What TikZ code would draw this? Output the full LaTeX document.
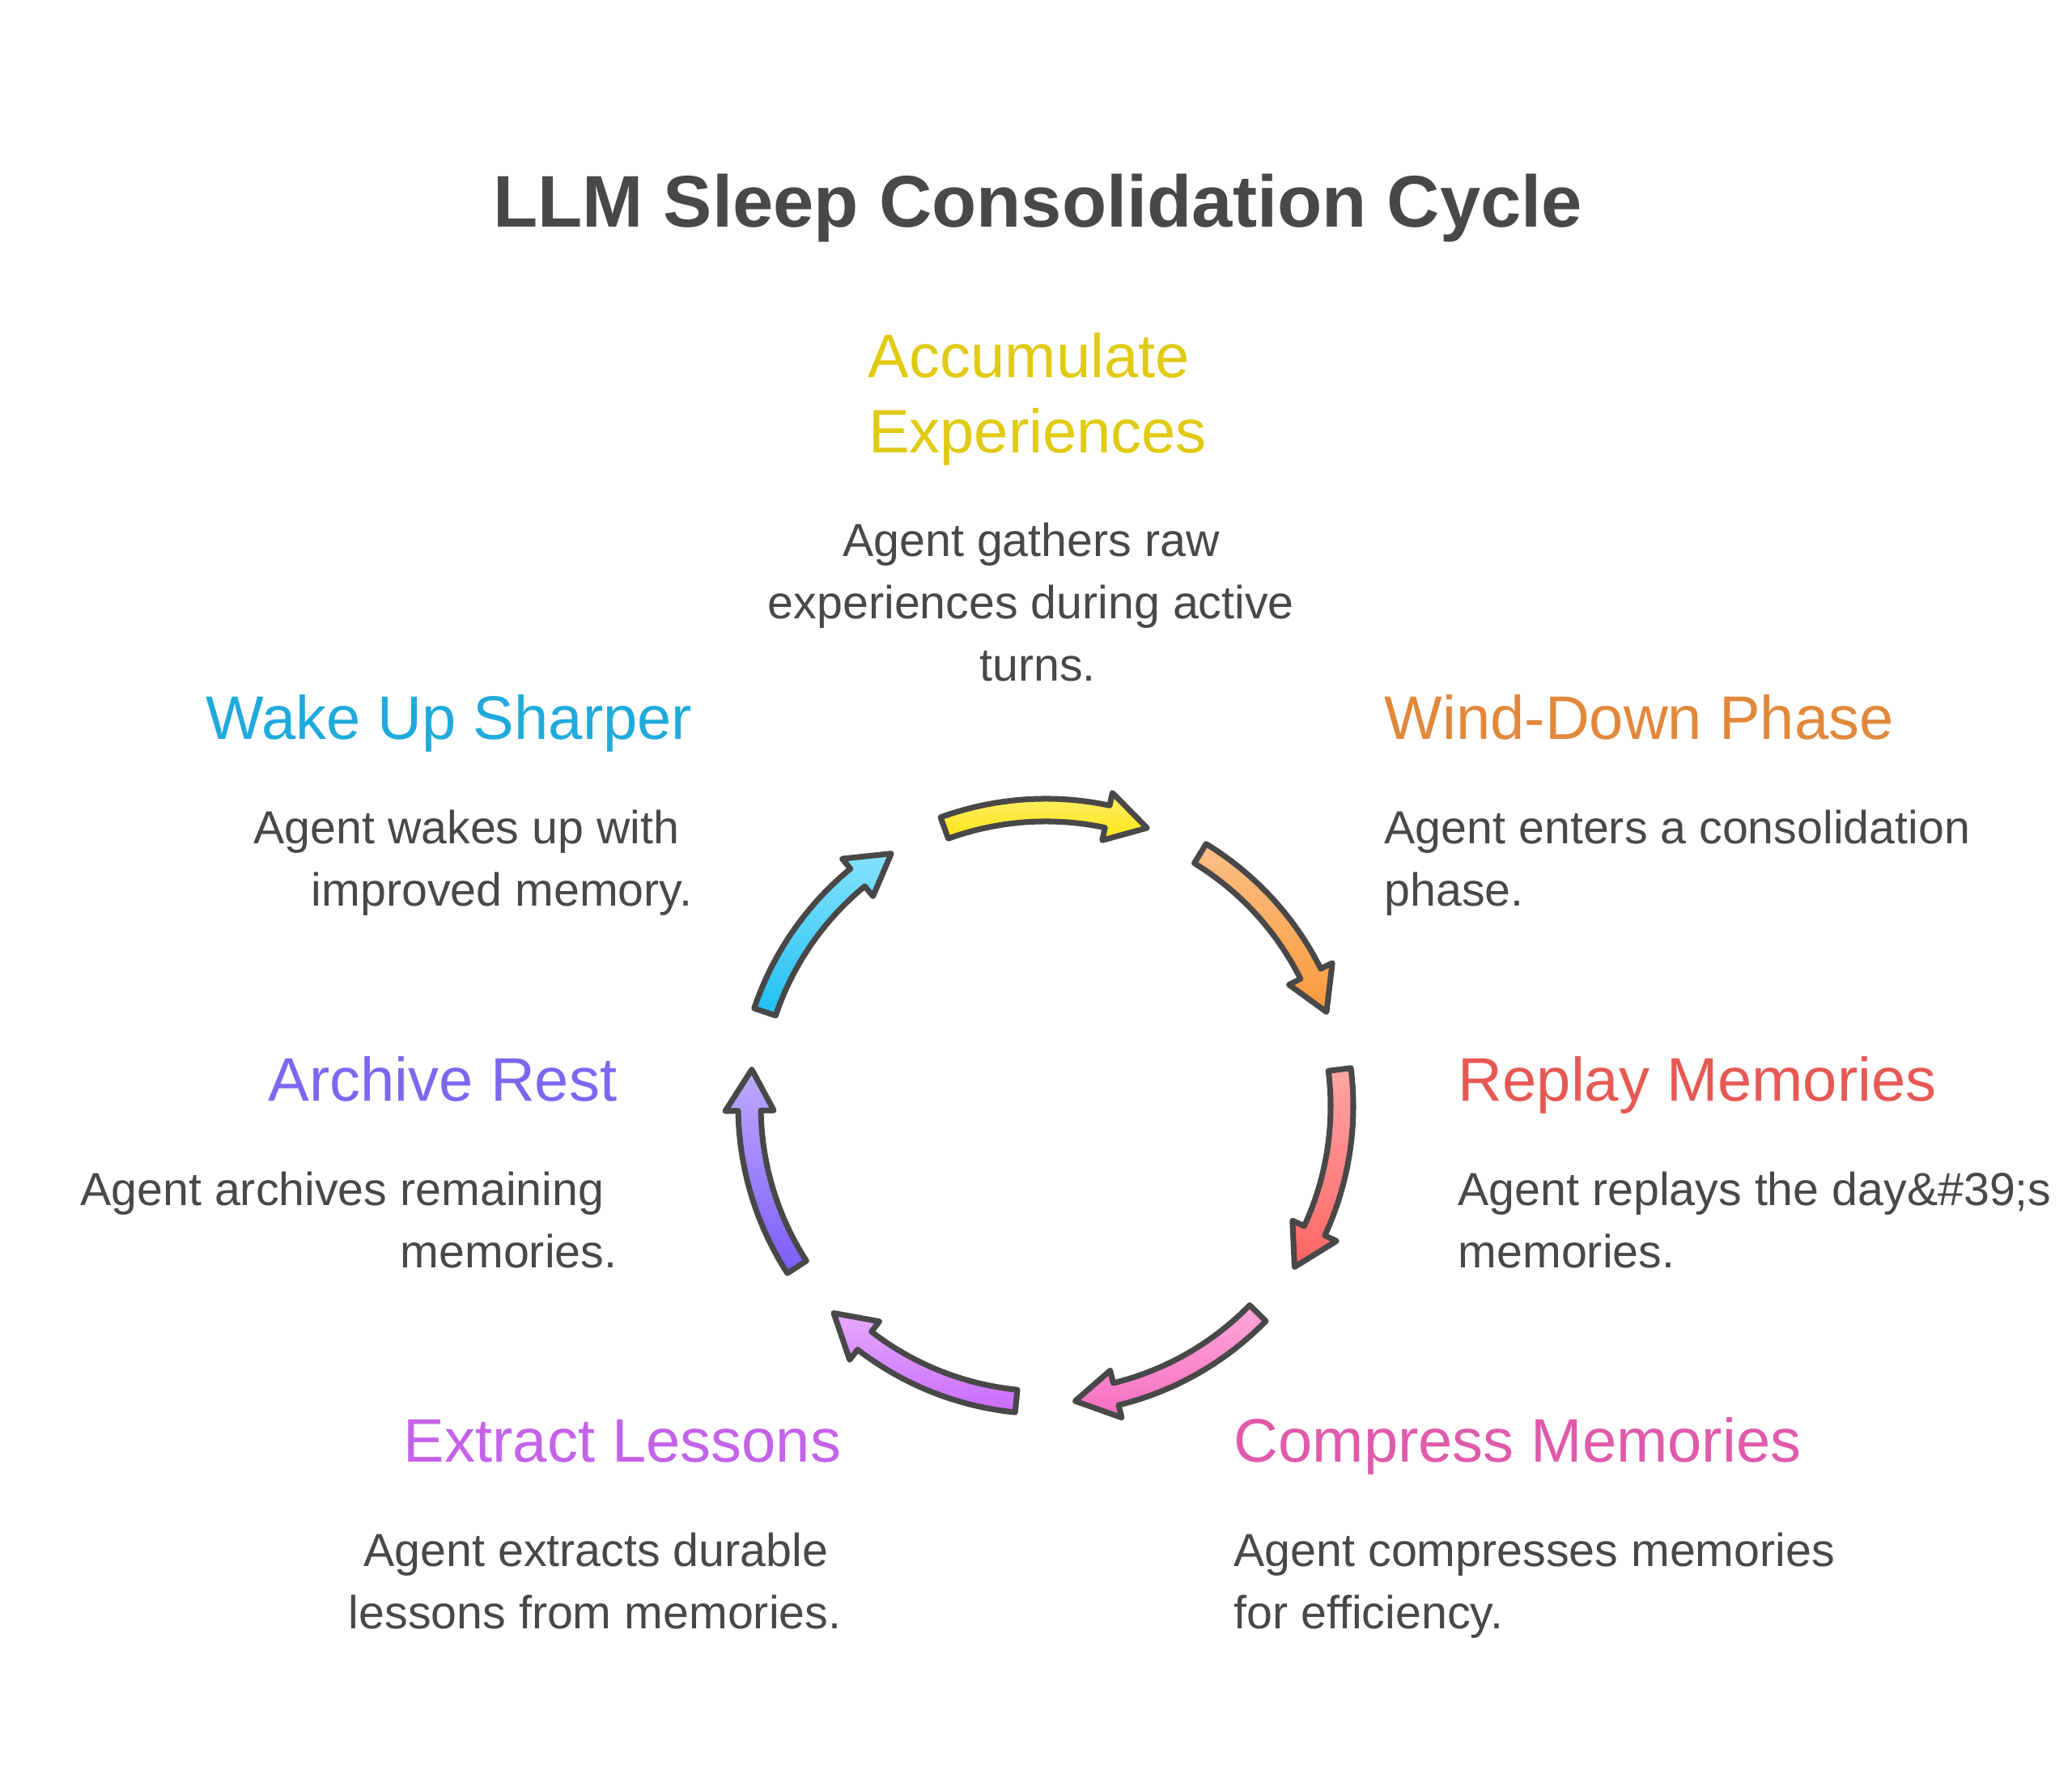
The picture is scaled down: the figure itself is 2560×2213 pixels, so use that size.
\documentclass[tikz,border=0pt]{standalone}
\usepackage{fontspec}
\setmainfont{Liberation Sans}
\usetikzlibrary{calc,positioning}
\definecolor{inkgray}{HTML}{484848}
\definecolor{accC}{HTML}{E0CA12}
\definecolor{windC}{HTML}{E2883C}
\definecolor{replC}{HTML}{E65954}
\definecolor{compC}{HTML}{E05AAA}
\definecolor{extrC}{HTML}{C462E8}
\definecolor{archC}{HTML}{7F66EE}
\definecolor{wakeC}{HTML}{20AADC}
% arrow gradients, top and bottom
\definecolor{yelT}{HTML}{FFF06A}
\definecolor{yelB}{HTML}{FFE414}
\definecolor{oraT}{HTML}{FDC088}
\definecolor{oraB}{HTML}{F9993A}
\definecolor{redT}{HTML}{FFA6A6}
\definecolor{redB}{HTML}{FF6464}
\definecolor{pinT}{HTML}{FFA8DA}
\definecolor{pinB}{HTML}{F56EC0}
\definecolor{purT}{HTML}{E6AAFF}
\definecolor{purB}{HTML}{C96CFA}
\definecolor{vioT}{HTML}{BCACFF}
\definecolor{vioB}{HTML}{7C5CF9}
\definecolor{bluT}{HTML}{86E2FF}
\definecolor{bluB}{HTML}{1EC0F0}

\begin{document}
\begin{tikzpicture}[
    x=0.01cm, y=0.01cm,
    ttl/.style={font=\fontsize{25.7}{31}\selectfont\bfseries, text=inkgray, inner sep=0pt},
    phase/.style={font=\fontsize{21.6}{26.5}\selectfont, inner sep=0pt},
    note/.style={font=\fontsize{16.3}{21.9}\selectfont, text=inkgray, inner sep=0pt},
    cyc/.style={draw=inkgray, line width=2pt, line join=round},
  ]
    \useasboundingbox (0,0) rectangle (2560,2213);
    \coordinate (ctr) at (1292,846);

    \node[ttl, anchor=base] (title) at (1282,1932) {LLM Sleep Consolidation Cycle};

    % the seven steps (base = last line of a node)
    \node[phase, text=accC, align=center, anchor=base] (acc) at (1282,1653) {Accumulate\kern.28em\\Experiences};
    \node[note, align=center, anchor=base] (accnote) at (1282,1371) {Agent gathers raw\kern.28em\\experiences during active\kern.28em\\turns.};

    \node[phase, text=windC, anchor=base west] (wind) at (1710,1299) {Wind-Down Phase};
    \node[note, align=left, anchor=base west] (windnote) at ([yshift=-2.05cm]wind.base west) {Agent enters a consolidation\\phase.};

    \node[phase, text=replC, anchor=base west] (repl) at (1801,852) {Replay Memories};
    \node[note, align=left, anchor=base west] (replnote) at ([yshift=-2.05cm]repl.base west) {Agent replays the day\&\#39;s\\memories.};

    \node[phase, text=compC, anchor=base west] (comp) at (1524,406) {Compress Memories};
    \node[note, align=left, anchor=base west] (compnote) at ([yshift=-2.05cm]comp.base west) {Agent compresses memories\\for efficiency.};

    \node[phase, text=extrC, anchor=base east] (extr) at (1040,406) {Extract Lessons};
    \node[note, align=right, anchor=base east] (extrnote) at ([yshift=-2.05cm]extr.base east) {Agent extracts durable\kern.28em\\lessons from memories.};

    \node[phase, text=archC, anchor=base east] (arch) at (763,852) {Archive Rest};
    \node[note, align=right, anchor=base east] (archnote) at ([yshift=-2.05cm]arch.base east) {Agent archives remaining\kern.28em\\memories.};

    \node[phase, text=wakeC, anchor=base east] (wake) at (856,1299) {Wake Up Sharper};
    \node[note, align=right, anchor=base east] (wakenote) at ([yshift=-2.05cm]wake.base east) {Agent wakes up with\kern.28em\\improved memory.};

    % cycle arrows, clockwise
    \foreach \i/\ct/\cb in {0/yelT/yelB, 1/oraT/oraB, 2/redT/redB, 3/pinT/pinB, 4/purT/purB, 5/vioT/vioB, 6/bluT/bluB} {
      \pgfmathsetmacro{\s}{110-\i*360/7}
      \draw[cyc, top color=\ct, bottom color=\cb, shift={(ctr)}]
        (\s:380) arc[start angle=\s, end angle=\s-32, radius=380]
        -- (\s-32:396) -- (\s-40:366) -- (\s-32:336) -- (\s-32:352)
        arc[start angle=\s-32, end angle=\s, radius=352] -- cycle;
    }
  \end{tikzpicture}
\end{document}
